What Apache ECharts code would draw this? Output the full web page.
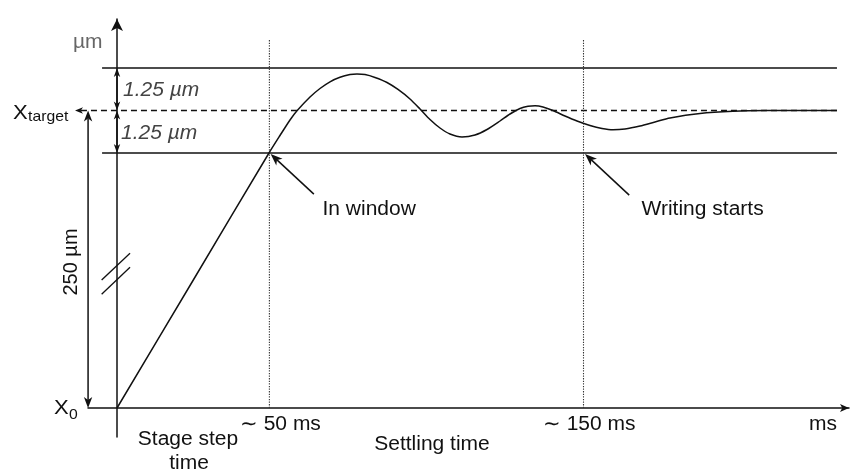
<!DOCTYPE html>
<html><head><meta charset="utf-8">
<script src="https://cdn.jsdelivr.net/npm/echarts@6/dist/echarts.min.js"></script>
<style>html,body{margin:0;padding:0;background:#fff}#c{width:856px;height:473px}</style>
</head><body><div id="c"></div>
<script>
// ---- data (schematic units: time ~ms, position ~µm relative to X0 with axis break) ----
const curveTime = [0, 24.44, 48.87, 52.41, 55.63, 57.88, 62.06, 65.27, 68.49, 71.70, 74.92, 77.17, 79.74, 82.96, 86.82, 90.35, 94.21, 97.43, 100.64, 103.86, 107.07, 110.93, 115.11, 118.97, 123.15, 126.37, 129.58, 132.15, 134.41, 136.98, 140.19, 144.05, 147.91, 152.09, 155.95, 159.49, 163.34, 168.17, 172.99, 177.81, 187.46, 198.07, 209.0, 231.5];
const curvePos  = [0, 3.75, 7.5, 8.015, 8.471, 8.741, 9.147, 9.397, 9.594, 9.726, 9.806, 9.824, 9.806, 9.721, 9.574, 9.368, 9.088, 8.794, 8.485, 8.235, 8.059, 7.971, 8.029, 8.191, 8.441, 8.647, 8.809, 8.874, 8.888, 8.853, 8.75, 8.588, 8.441, 8.309, 8.221, 8.182, 8.206, 8.294, 8.412, 8.529, 8.662, 8.726, 8.747, 8.75];
const targetPos = 8.75;
const windowHalf = 1.25;
const windowLevels = [targetPos + windowHalf, targetPos - windowHalf];
const lineSpan = [-4.8, 231.5];          // extent of the horizontal window lines
const targetArrowTip = -13.5;            // left arrow of X_target line
const markerTimes = [49, 150];           // ~50 ms, ~150 ms
const markerTop = 10.82;
const stepArrowX = -9.3;                 // 250 µm dimension arrow
const breakMarks = [[-4.94, 3.765, 4.19, 4.55], [-4.94, 3.344, 4.19, 4.138]];
const annotArrows = [[63.3, 6.29, 49.4, 7.47], [164.7, 6.26, 150.5, 7.47]];
const xMin = -9.325, xMax = 235.37, yMin = -0.853, yMax = 11.441;

// ---- text labels ----
const xTickLabels = ['\u223C 50 ms', '\u223C 150 ms', 'ms'];
const annotLabels = ['In window', 'Writing starts'];
const windowLabel = '1.25 µm';

const FONT = '"Liberation Sans", Arial, Helvetica, sans-serif';
const INK = '#111';
const SX = 1.05;

function buildSeg(p1, p2, o) {
  const dx = p2[0]-p1[0], dy = p2[1]-p1[1], len = Math.hypot(dx, dy) || 1;
  const ux = dx/len, uy = dy/len, nx = -uy, ny = ux;
  const hl = o.hl || 10, hw = o.hw || 4, col = o.color || INK;
  let a = p1.slice(), b = p2.slice();
  const kids = [];
  function head(t, d) {
    return {type: 'polygon', shape: {points: [
      [t[0], t[1]],
      [t[0]-hl*d[0]+hw*nx, t[1]-hl*d[1]+hw*ny],
      [t[0]-0.72*hl*d[0], t[1]-0.72*hl*d[1]],
      [t[0]-hl*d[0]-hw*nx, t[1]-hl*d[1]-hw*ny]]}, style: {fill: col}};
  }
  if (o.end) { kids.push(head(p2, [ux, uy])); b = [p2[0]-0.72*hl*ux, p2[1]-0.72*hl*uy]; }
  if (o.start) { kids.push(head(p1, [-ux, -uy])); a = [p1[0]+0.72*hl*ux, p1[1]+0.72*hl*uy]; }
  kids.unshift({type: 'line', shape: {x1: a[0], y1: a[1], x2: b[0], y2: b[1]},
    style: {stroke: col, lineWidth: o.width || 1.5, lineDash: o.dash || null, fill: null}});
  return kids;
}
function segSeries(segs, o) {
  return {
    type: 'custom', coordinateSystem: 'cartesian2d', clip: false, silent: true, animation: false,
    data: segs, encode: {x: [0, 2], y: [1, 3]},
    renderItem: function (params, api) {
      const p1 = api.coord([api.value(0), api.value(1)]);
      const p2 = api.coord([api.value(2), api.value(3)]);
      return {type: 'group', children: buildSeg(p1, p2, o)};
    }
  };
}
function txt(x, y, text, size, opt) {
  opt = opt || {};
  return {type: 'text', x: x, y: y, scaleX: opt.noScale ? 1 : SX, rotation: opt.rotation || 0,
    style: {text: text, font: (opt.italic ? 'italic ' : '') + size + 'px ' + FONT, fill: opt.fill || INK,
      align: opt.align || 'left', verticalAlign: 'middle'}};
}

const chart = echarts.init(document.getElementById('c'), null, {renderer: 'canvas'});
chart.setOption({
  backgroundColor: '#fff',
  animation: false,
  grid: {left: 88, right: 7, top: 19, bottom: 36, containLabel: false},
  xAxis: {type: 'value', min: xMin, max: xMax,
    axisLine: {onZero: true, symbol: ['none', 'arrow'], symbolSize: [6, 9], lineStyle: {color: INK, width: 1.5}},
    axisTick: {show: false}, axisLabel: {show: false}, splitLine: {show: false}},
  yAxis: {type: 'value', min: yMin, max: yMax,
    axisLine: {onZero: true, symbol: ['none', 'arrow'], symbolSize: [9, 12], lineStyle: {color: INK, width: 1.5}},
    axisTick: {show: false}, axisLabel: {show: false}, splitLine: {show: false}},
  series: [
    segSeries(windowLevels.map(v => [lineSpan[0], v, lineSpan[1], v]), {width: 1.5}),
    segSeries([[lineSpan[1], targetPos, targetArrowTip, targetPos]], {end: true, dash: [6, 4], hl: 8, hw: 3.2}),
    segSeries(markerTimes.map(t => [t, 0, t, markerTop]), {width: 1.1, dash: [1.3, 1.3], color: '#333'}),
    segSeries([[0, windowLevels[0], 0, targetPos], [0, targetPos, 0, windowLevels[1]]], {start: true, end: true, hl: 9, hw: 3.2}),
    segSeries([[stepArrowX, 0, stepArrowX, targetPos]], {start: true, end: true, hl: 11, hw: 4.2}),
    segSeries(breakMarks, {width: 1.3}),
    segSeries(annotArrows, {end: true, hl: 12, hw: 4.6}),
    {type: 'line', data: curveTime.map((t, i) => [t, curvePos[i]]), smooth: 0.25, symbol: 'none', clip: false,
      lineStyle: {color: INK, width: 1.5}, silent: true}
  ],
  graphic: [
    txt(73, 42, 'µm', 20, {fill: '#666'}),
    txt(123, 90, windowLabel, 20, {italic: true, fill: '#444'}),
    txt(121, 133, windowLabel, 20, {italic: true, fill: '#444'}),
    txt(13, 113, 'X', 21),
    txt(28, 117, 'target', 15),
    txt(54, 408, 'X', 21),
    txt(69, 415, '0', 15),
    txt(71, 262, '250 µm', 20, {align: 'center', rotation: Math.PI / 2, noScale: true}),
    txt(240, 424.5, xTickLabels[0], 20),
    txt(543, 424.5, xTickLabels[1], 20),
    txt(809, 424.5, xTickLabels[2], 20),
    txt(188, 439, 'Stage step', 20, {align: 'center'}),
    txt(189, 463, 'time', 20, {align: 'center'}),
    txt(432, 444, 'Settling time', 20, {align: 'center'}),
    txt(322.5, 209, annotLabels[0], 20),
    txt(641.5, 209, annotLabels[1], 20)
  ]
});
</script>
</body></html>
